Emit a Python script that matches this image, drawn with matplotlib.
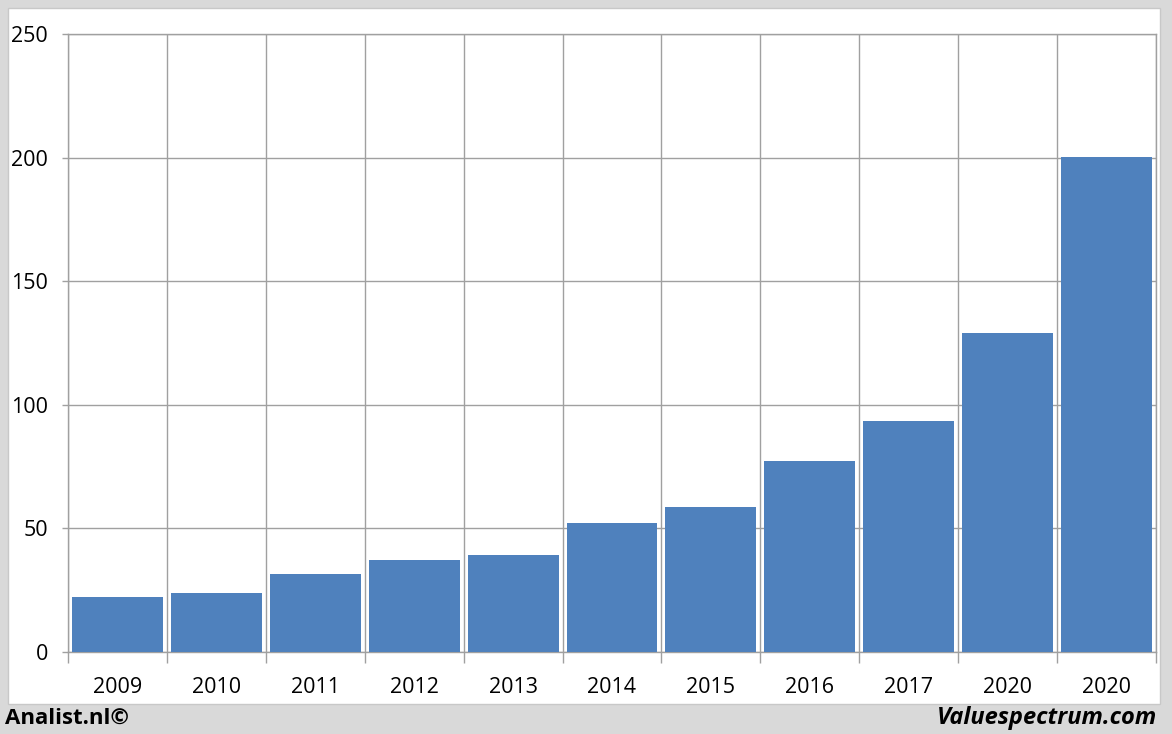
import matplotlib.pyplot as plt
from matplotlib.patches import Rectangle
import numpy as np

years = ["2009", "2010", "2011", "2012", "2013", "2014", "2015", "2016", "2017", "2020", "2020"]
values = [22.2, 23.9, 31.6, 37.2, 39.2, 52.2, 58.7, 77.3, 93.4, 129.0, 200.2]
yticks = [0, 50, 100, 150, 200, 250]

W, H = 1172, 734
fig = plt.figure(figsize=(W / 100, H / 100), dpi=100, facecolor="#D9D9D9")
# white panel inside the grey frame
fig.patches.append(Rectangle((8 / W, 30 / H), 1152 / W, 696 / H, transform=fig.transFigure,
                             facecolor="white", edgecolor="#C8C8C8", lw=1, zorder=-10))

ax = fig.add_axes([68 / W, (H - 652) / H, (1156 - 68) / W, (652 - 34) / H])
ax.set_facecolor("white")
grid_c = "#A0A0A0"

x = np.arange(len(years))
ax.bar(x, values, width=0.92, color="#4F81BD", zorder=3)

ax.set_xlim(-0.5, len(years) - 0.5)
ax.set_ylim(0, 250)
ax.set_yticks(yticks)
ax.set_xticks(x)
ax.set_xticklabels(years)
ax.set_xticks(np.arange(len(years) + 1) - 0.5, minor=True)

ax.grid(axis="y", which="major", color=grid_c, lw=1, zorder=1)
ax.grid(axis="x", which="minor", color=grid_c, lw=1, zorder=1)
ax.set_axisbelow(True)
ax.tick_params(axis="x", which="major", length=0, pad=18, labelsize=15.5)
ax.tick_params(axis="x", which="minor", length=8, width=1, color=grid_c, direction="out")
ax.tick_params(axis="y", length=4.5, width=1, color=grid_c, pad=10, labelsize=15.5)
for s in ax.spines.values():
    s.set_color(grid_c)
    s.set_linewidth(1)

for lab in ax.get_xticklabels() + ax.get_yticklabels():
    lab.set_fontfamily("Open Sans")

fig.text(5 / W, 1 - 718 / H, "Analist.nl©", fontsize=16, fontweight="bold",
         family="Open Sans", va="center", ha="left")
fig.text(1157 / W, 1 - 718 / H, "Valuespectrum.com", fontsize=17, fontweight="bold",
         style="italic", family="Open Sans", va="center", ha="right")

fig.savefig("out.png", dpi=100, facecolor=fig.get_facecolor())
